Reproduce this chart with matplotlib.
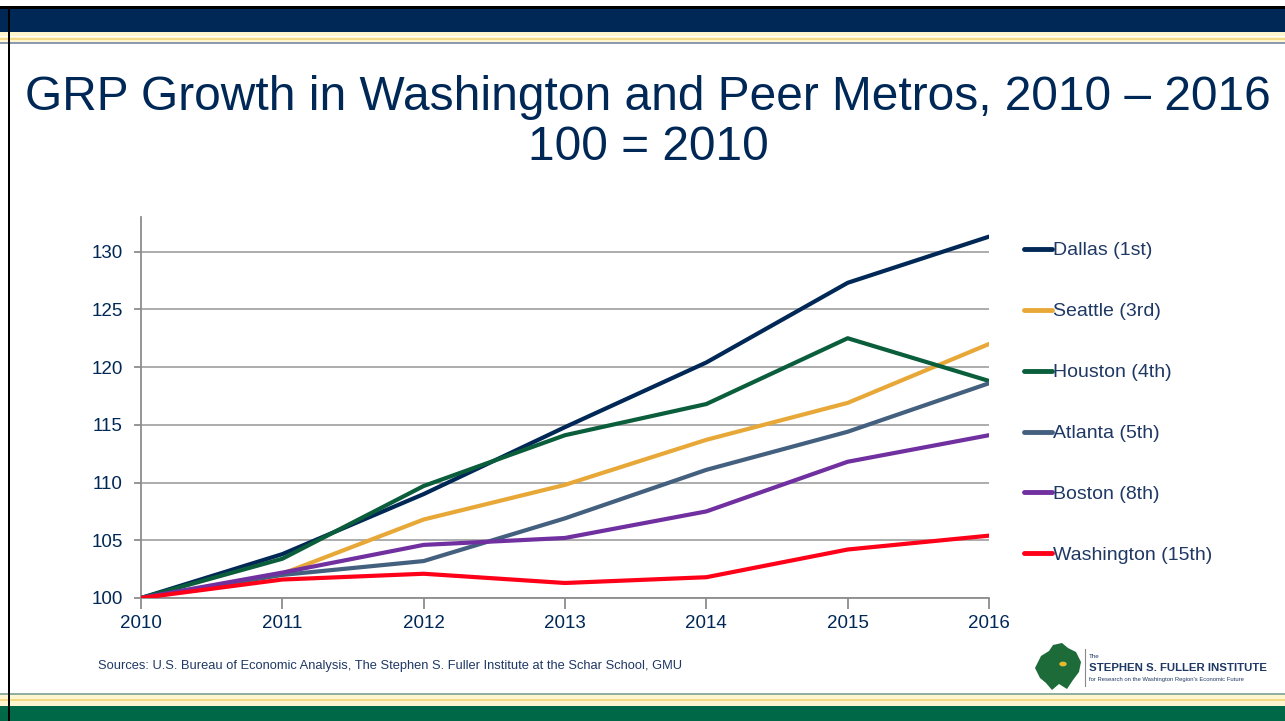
import matplotlib
matplotlib.use("Agg")
import matplotlib.pyplot as plt
from matplotlib.patches import Rectangle, Polygon, Circle
from matplotlib.lines import Line2D

plt.rcParams["font.family"] = ["Liberation Sans", "DejaVu Sans"]

# ── Data (index, 100 = 2010) ────────────────────────────────────────────────
years = [2010, 2011, 2012, 2013, 2014, 2015, 2016]
dallas     = [100, 103.8, 109.0, 114.8, 120.4, 127.3, 131.3]
seattle    = [100, 102.1, 106.8, 109.8, 113.7, 116.9, 122.0]
houston    = [100, 103.4, 109.7, 114.1, 116.8, 122.5, 118.8]
atlanta    = [100, 102.0, 103.2, 106.9, 111.1, 114.4, 118.6]
boston     = [100, 102.2, 104.6, 105.2, 107.5, 111.8, 114.1]
washington = [100, 101.6, 102.1, 101.3, 101.8, 104.2, 105.4]

labels = ["Dallas (1st)", "Seattle (3rd)", "Houston (4th)",
          "Atlanta (5th)", "Boston (8th)", "Washington (15th)"]
series = [dallas, seattle, houston, atlanta, boston, washington]
colors = ["#002856", "#E8A838", "#0B5E3C", "#44607F", "#7030A0", "#FF0019"]

NAVY = "#002856"
TXT = "#1F3864"
NARROW = ["Liberation Sans Narrow", "Liberation Sans"]

W, H = 1285, 721
fig = plt.figure(figsize=(W / 100, H / 100), dpi=100)
fig.patch.set_facecolor("white")

def band(y0, y1, color, x0=0, x1=W):
    fig.patches.append(Rectangle((x0 / W, 1 - y1 / H), (x1 - x0) / W, (y1 - y0) / H,
                                 transform=fig.transFigure, color=color, lw=0, zorder=0))

# ── Slide decorations ───────────────────────────────────────────────────────
band(6, 9, "#000000")
band(9, 32, NAVY)
band(32, 42, "#FFF6CF")
band(36, 37, "#FFFFFF")
band(38, 39.5, "#F2DA8A")
band(42, 44, "#8C9BB0")
band(693, 695, "#8FB0A0")
band(695, 706, "#FFF6CF")
band(699, 700.5, "#F2DA8A")
band(706, 721, "#006747")
band(6, 721, "#000000", 8, 10)

# ── Title ───────────────────────────────────────────────────────────────────
fig.text(648 / W, 1 - 98 / H, "GRP Growth in Washington and Peer Metros, 2010 \u2013 2016",
         ha="center", va="center", fontsize=34.5, color=NAVY)
fig.text(648 / W, 1 - 148 / H, "100 = 2010", ha="center", va="center",
         fontsize=34.5, color=NAVY)

# ── Chart ───────────────────────────────────────────────────────────────────
ax = fig.add_axes([141 / W, 1 - 598 / H, (989 - 141) / W, (598 - 217) / H])
for vals, c, lab in zip(series, colors, labels):
    ax.plot(years, vals, color=c, lw=3, label=lab, solid_capstyle="round", zorder=3)

ax.set_xlim(2010, 2016)
ax.set_ylim(100, 133)
ax.set_xticks(years)
ax.set_yticks(range(100, 131, 5))
ax.grid(axis="y", color="#A6A6A6", lw=1.3)
ax.set_axisbelow(True)
for s in ["top", "right"]:
    ax.spines[s].set_visible(False)
for s in ["left", "bottom"]:
    ax.spines[s].set_color("#8C8C8C")
    ax.spines[s].set_linewidth(1.3)
ax.tick_params(axis="x", direction="out", length=8, width=1.3, color="#8C8C8C",
               labelsize=13.5, labelcolor=NAVY, pad=4)
ax.tick_params(axis="y", direction="out", length=5, width=1.3, color="#8C8C8C",
               labelsize=13.5, labelcolor=NAVY, pad=8)

# legend
handles = [Line2D([], [], color=c, lw=3.5, solid_capstyle="round") for c in colors]
fig.legend(handles, labels, loc="upper left", bbox_to_anchor=(1016 / W, 1 - 234 / H),
           frameon=False, fontsize=14, labelcolor=TXT, handlelength=1.45,
           handletextpad=0.05, labelspacing=2.23, borderaxespad=0)

# ── Footer ──────────────────────────────────────────────────────────────────
fig.text(98 / W, 1 - 666 / H,
         "Sources: U.S. Bureau of Economic Analysis, The Stephen S. Fuller Institute at the Schar School, GMU",
         ha="left", va="center", fontsize=9.3, color=TXT, family=NARROW)

# logo (approximation)
blob = [(1035, 668), (1041, 656), (1049, 651), (1053, 645), (1062, 643), (1068, 648),
        (1076, 652), (1081, 662), (1079, 672), (1073, 680), (1067, 689), (1059, 684),
        (1052, 690), (1046, 683), (1040, 678)]
fig.patches.append(Polygon([(x / W, 1 - y / H) for x, y in blob], closed=True,
                           transform=fig.transFigure, color="#1E6B3A", lw=0, zorder=2))
fig.patches.append(Circle((1063 / W, 1 - 664 / H), 3 / W, transform=fig.transFigure,
                          color="#E8B830", zorder=3))
fig.lines.append(Line2D([1085 / W, 1085 / W], [1 - 649 / H, 1 - 686 / H],
                        transform=fig.transFigure, color="#888888", lw=0.8))
fig.text(1089 / W, 1 - 657 / H, "The", fontsize=4.5, color=TXT, va="center",
         family=NARROW)
fig.text(1089 / W, 1 - 668 / H, "STEPHEN S. FULLER INSTITUTE", fontsize=8.2,
         color=TXT, va="center", fontweight="bold", family=NARROW)
fig.text(1089 / W, 1 - 679 / H,
         "for Research on the Washington Region's Economic Future",
         fontsize=4.2, color=TXT, va="center", family=NARROW)

fig.savefig("out.png", dpi=100)
